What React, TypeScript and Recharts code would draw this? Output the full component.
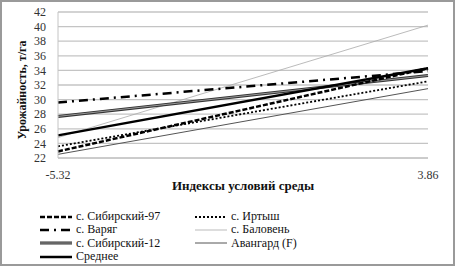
import React from "react";
import { LineChart, Line, XAxis, YAxis, CartesianGrid, Label } from "recharts";

const xValues = [-5.32, 3.86];
const sib97 = [22.9, 34.3];
const irtysh = [23.6, 32.5];
const varyag = [29.6, 33.9];
const balovenj = [24.8, 40.2];
const sib12 = [27.7, 33.3];
const avangard = [22.5, 31.5];
const srednee = [25.1, 34.3];
const yTicks = [22, 24, 26, 28, 30, 32, 34, 36, 38, 40, 42];

const data = xValues.map((x, i) => ({
  x,
  sib97: sib97[i],
  irtysh: irtysh[i],
  varyag: varyag[i],
  balovenj: balovenj[i],
  sib12: sib12[i],
  avangard: avangard[i],
  srednee: srednee[i],
}));

const FONT = "Liberation Serif";

type Sample = { name: string; stroke: string; width: number; dash?: string; inner?: string };

const col1: Sample[] = [
  { name: "с. Сибирский-97", stroke: "#000", width: 2.5, dash: "5 2" },
  { name: "с. Варяг", stroke: "#000", width: 2.5, dash: "9 5 2 5" },
  { name: "с. Сибирский-12", stroke: "#333", width: 3, inner: "#999" },
  { name: "Среднее", stroke: "#000", width: 2.5 },
];
const col2: Sample[] = [
  { name: "с. Иртыш", stroke: "#000", width: 1.8, dash: "2 2" },
  { name: "с. Баловень", stroke: "#aaa", width: 0.8 },
  { name: "Авангард (F)", stroke: "#555", width: 1 },
];

const LegendItem = ({ s }: { s: Sample }) => (
  <div style={{ display: "flex", alignItems: "center", height: 13.3 }}>
    <svg width={34} height={10} style={{ marginRight: 3 }}>
      <line x1={1} y1={5} x2={33} y2={5} stroke={s.stroke} strokeWidth={s.width} strokeDasharray={s.dash} />
      {s.inner ? <line x1={1} y1={5} x2={33} y2={5} stroke={s.inner} strokeWidth={1} /> : null}
    </svg>
    <span style={{ fontFamily: FONT }}>{s.name}</span>
  </div>
);

const YTitle = () => {
  const cx = 22;
  const cy = 90;
  return (
    <text
      x={cx}
      y={cy}
      transform={`rotate(-90 ${cx} ${cy})`}
      textAnchor="middle"
      dominantBaseline="central"
      style={{ fontWeight: "bold", fontSize: 12, fill: "#111", fontFamily: FONT }}
    >
      Урожайность, т/га
    </text>
  );
};

export default function App() {
  return (
    <div
      style={{
        position: "absolute",
        left: 0,
        top: 0,
        width: 455,
        height: 266,
        boxSizing: "border-box",
        border: "2px solid #9a9a9a",
        background: "#fff",
        fontFamily: FONT,
      }}
    >
      <div style={{ position: "absolute", left: -2, top: -2 }}>
        <LineChart width={455} height={198} data={data} margin={{ top: 12, right: 27, left: 14, bottom: 8 }} style={{ fontFamily: FONT }}>
          <CartesianGrid vertical={false} stroke="#c4c4c4" strokeWidth={1.3} />
          <XAxis
            dataKey="x"
            type="number"
            domain={[-5.32, 3.86]}
            ticks={xValues}
            tickFormatter={(v: number) => v.toFixed(2)}
            tick={{ fill: "#333", fontSize: 12, fontFamily: FONT }}
            tickLine={false}
            axisLine={{ stroke: "#c4c4c4" }}
            height={32}
            tickMargin={6}
            label={{
              value: "Индексы условий среды",
              position: "insideBottom",
              offset: 0,
              style: { fontWeight: "bold", fontSize: 13, fill: "#111", fontFamily: FONT },
            }}
          />
          <YAxis
            type="number"
            domain={[22, 42]}
            ticks={yTicks}
            tick={{ fill: "#333", fontSize: 12, fontFamily: FONT }}
            tickLine={false}
            axisLine={{ stroke: "#c4c4c4" }}
            width={44}
            tickMargin={6}
            interval={0}
          >
            <Label content={<YTitle />} />
          </YAxis>
          <Line dataKey="balovenj" stroke="#aaa" strokeWidth={0.8} dot={false} isAnimationActive={false} />
          <Line dataKey="avangard" stroke="#555" strokeWidth={1} dot={false} isAnimationActive={false} />
          <Line dataKey="sib12" stroke="#333" strokeWidth={3} dot={false} isAnimationActive={false} />
          <Line dataKey="sib12" stroke="#999" strokeWidth={1} dot={false} isAnimationActive={false} legendType="none" />
          <Line dataKey="irtysh" stroke="#000" strokeWidth={1.8} strokeDasharray="2 2" dot={false} isAnimationActive={false} />
          <Line dataKey="sib97" stroke="#000" strokeWidth={2.5} strokeDasharray="5 2" dot={false} isAnimationActive={false} />
          <Line dataKey="varyag" stroke="#000" strokeWidth={2.5} strokeDasharray="9 5 2 5" dot={false} isAnimationActive={false} />
          <Line dataKey="srednee" stroke="#000" strokeWidth={2.5} dot={false} isAnimationActive={false} />
        </LineChart>
      </div>
      <div style={{ position: "absolute", left: 37, top: 208, fontSize: 12, color: "#111" }}>
        {col1.map((s) => (
          <LegendItem key={s.name} s={s} />
        ))}
      </div>
      <div style={{ position: "absolute", left: 192, top: 208, fontSize: 12, color: "#111" }}>
        {col2.map((s) => (
          <LegendItem key={s.name} s={s} />
        ))}
      </div>
    </div>
  );
}
